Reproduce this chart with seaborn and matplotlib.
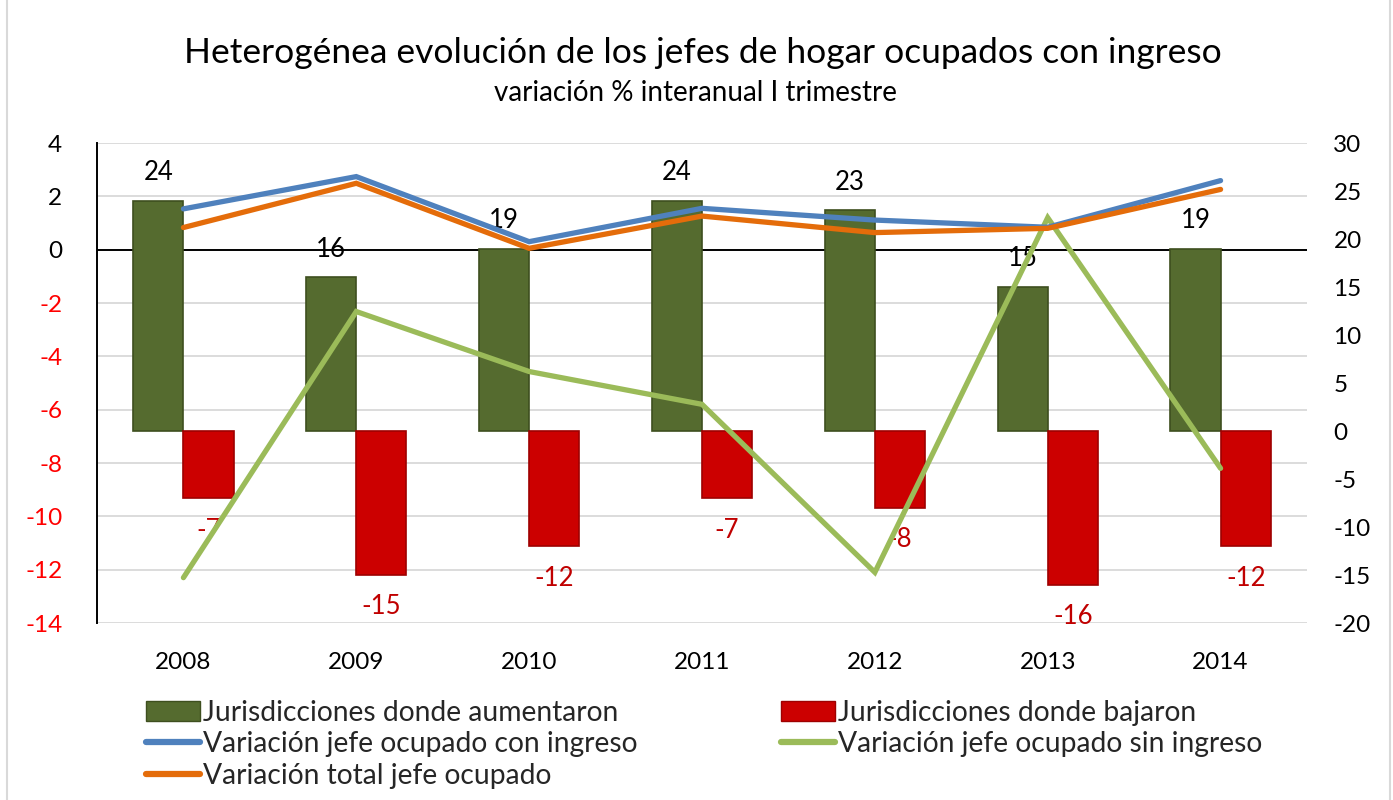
import numpy as np
import pandas as pd
import matplotlib
matplotlib.use("Agg")
import matplotlib.pyplot as plt
import matplotlib.transforms as mtransforms
from matplotlib.patches import Patch, Rectangle
from matplotlib.lines import Line2D
import seaborn as sns

# ---------------- data ----------------
years = ["2008", "2009", "2010", "2011", "2012", "2013", "2014"]
aumentaron = [24, 16, 19, 24, 23, 15, 19]
bajaron = [-7, -15, -12, -7, -8, -16, -12]
var_con_ingreso = [1.53, 2.74, 0.30, 1.55, 1.11, 0.84, 2.59]
var_sin_ingreso = [-12.3, -2.32, -4.57, -5.8, -12.1, 1.2, -8.2]
var_total = [0.83, 2.49, 0.05, 1.26, 0.64, 0.80, 2.26]

left_ticks = [4, 2, 0, -2, -4, -6, -8, -10, -12, -14]
right_ticks = [30, 25, 20, 15, 10, 5, 0, -5, -10, -15, -20]

title = "Heterogénea evolución de los jefes de hogar ocupados con ingreso"
subtitle = "variación % interanual I trimestre"
lab_aum = "Jurisdicciones donde aumentaron"
lab_baj = "Jurisdicciones donde bajaron"
lab_con = "Variación jefe ocupado con ingreso"
lab_sin = "Variación jefe ocupado sin ingreso"
lab_tot = "Variación total jefe ocupado"

# ---------------- style ----------------
sns.set_theme(style="white")
FONT = ["Lato", "DejaVu Sans"]
plt.rcParams["font.family"] = FONT

C_GREEN_BAR = "#556B2F"
C_GREEN_EDGE = "#3E4F1F"
C_RED_BAR = "#CC0000"
C_RED_EDGE = "#9E0000"
C_BLUE = "#4F81BD"
C_ORANGE = "#E46C0A"
C_LGREEN = "#9BBB59"
C_GRID = "#D9D9D9"

W, H = 1393, 800
fig = plt.figure(figsize=(W / 100, H / 100), dpi=100)
fig.patch.set_facecolor("white")

axb = fig.add_axes([97 / W, 177 / H, 1210 / W, 480 / H])
axl = axb.twinx()

# ---------------- bars (right scale) ----------------
df = pd.DataFrame({
    "year": years * 2,
    "serie": [lab_aum] * len(years) + [lab_baj] * len(years),
    "valor": aumentaron + bajaron,
})
sns.barplot(data=df, x="year", y="valor", hue="serie", hue_order=[lab_aum, lab_baj],
            palette=[C_GREEN_BAR, C_RED_BAR], width=0.58, saturation=1,
            legend=False, ax=axb, zorder=3, linewidth=1.2)
for patch in axb.containers[0]:
    patch.set_edgecolor(C_GREEN_EDGE)
for patch in axb.containers[1]:
    patch.set_edgecolor(C_RED_EDGE)

# ---------------- lines (left scale) ----------------
xpos = np.arange(len(years))
for vals, col in [(var_sin_ingreso, C_LGREEN), (var_con_ingreso, C_BLUE), (var_total, C_ORANGE)]:
    sns.lineplot(x=xpos, y=vals, color=col, linewidth=3.8, ax=axl, sort=False,
                 solid_capstyle="round", solid_joinstyle="miter")

# ---------------- axes cosmetics ----------------
axb.set_ylim(-20, 30)
axl.set_ylim(-14, 4)
axb.set_xlim(-0.5, len(years) - 0.5)
axl.set_xlim(-0.5, len(years) - 0.5)

blend = mtransforms.blended_transform_factory(axb.transAxes, axl.transData)
for v in left_ticks:
    if v == 0:
        continue
    axb.add_line(Line2D([0, 1], [v, v], transform=blend, color=C_GRID, lw=1.3, zorder=0.5))
axb.add_line(Line2D([0, 1], [0, 0], transform=blend, color="black", lw=1.4, zorder=1))
axb.set_ylim(-20, 30)

for ax in (axb, axl):
    for s in ax.spines.values():
        s.set_visible(False)
    ax.set_xlabel("")
    ax.set_ylabel("")
    ax.grid(False)
axl.spines["left"].set_visible(True)
axl.spines["left"].set_color("black")
axl.spines["left"].set_linewidth(1.4)

axb.yaxis.tick_right()
axb.set_yticks(right_ticks)
axb.set_yticklabels([str(t) for t in right_ticks])
axb.tick_params(axis="y", length=0, pad=19, labelsize=17.5, labelcolor="black")
for t in axb.get_yticklabels():
    t.set_horizontalalignment("left")

axl.yaxis.tick_left()
axl.set_yticks(left_ticks)
axl.set_yticklabels([str(t) for t in left_ticks])
axl.tick_params(axis="y", length=0, pad=25, labelsize=17.5)
for t, v in zip(axl.get_yticklabels(), left_ticks):
    t.set_color("#FF0000" if v < 0 else "black")

axb.set_xticks(xpos)
axb.set_xticklabels(years)
axb.tick_params(axis="x", length=0, pad=21, labelsize=17.5, labelcolor="black")
axl.tick_params(axis="x", length=0, labelbottom=False)

# ---------------- data labels ----------------
for patch, v in zip(axb.containers[0], aumentaron):
    cx = patch.get_x() + patch.get_width() / 2
    axb.annotate(str(v), (cx, v), xytext=(0, 28), textcoords="offset pixels",
                 ha="center", va="center", fontsize=18.5, color="black", zorder=6)
for patch, v in zip(axb.containers[1], bajaron):
    cx = patch.get_x() + patch.get_width() / 2
    axb.annotate(str(v), (cx, v), xytext=(0, -32), textcoords="offset pixels",
                 ha="center", va="center", fontsize=18.5, color="#C00000", zorder=6)

# ---------------- titles ----------------
fig.text(703 / W, 1 - 53 / H, title, ha="center", va="center", fontsize=25.5, color="black")
fig.text(695 / W, 1 - 93 / H, subtitle, ha="center", va="center", fontsize=20, color="black")

# ---------------- legend ----------------
handles = [
    Patch(facecolor=C_GREEN_BAR, edgecolor=C_GREEN_EDGE),
    Line2D([], [], color=C_BLUE, lw=4.5, solid_capstyle="round"),
    Line2D([], [], color=C_ORANGE, lw=4.5, solid_capstyle="round"),
    Patch(facecolor=C_RED_BAR, edgecolor=C_RED_EDGE),
    Line2D([], [], color=C_LGREEN, lw=4.5, solid_capstyle="round"),
]
labels = [lab_aum, lab_con, lab_tot, lab_baj, lab_sin]
fig.legend(handles, labels, ncol=2, loc="upper left", bbox_to_anchor=(146 / W, 1 - 700 / H),
           frameon=False, fontsize=20.3, handlelength=1.9, handletextpad=0.12,
           columnspacing=5.1, labelspacing=0.19, borderpad=0, borderaxespad=0)

# figure border
fig.add_artist(Rectangle((7 / W, -0.01), (1390 - 7) / W, 1.02, transform=fig.transFigure,
                         fill=False, edgecolor=C_GRID, lw=1.5))

fig.savefig("out.png", dpi=100, facecolor="white")
